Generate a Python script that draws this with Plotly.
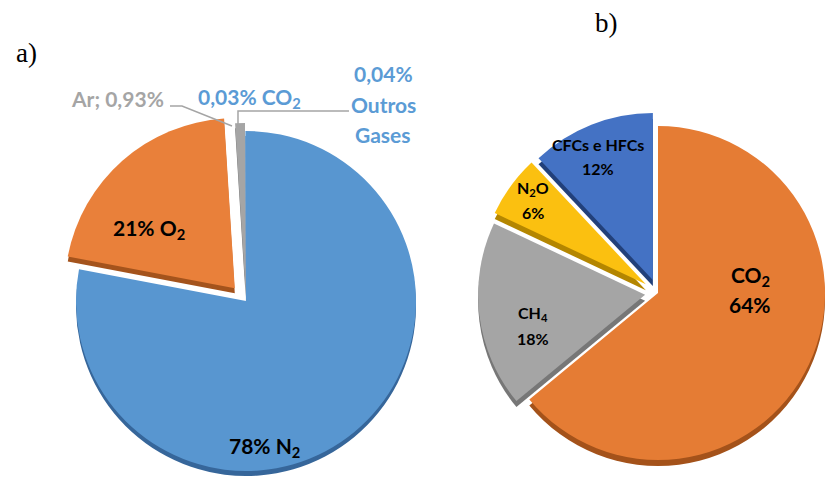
import math
import plotly.graph_objects as go

W, H = 825, 477

# (a) composição do ar seco, em %
gases_a = ["N<sub>2</sub>", "O<sub>2</sub>", "Ar", "CO<sub>2</sub>", "Outros Gases"]
pct_a = [78, 21, 0.93, 0.03, 0.04]

# (b) gases de efeito estufa, em %
gases_b = ["CO<sub>2</sub>", "CH<sub>4</sub>", "N<sub>2</sub>O", "CFCs e HFCs"]
pct_b = [64, 18, 6, 12]

# face and side (darker) colours of each slice
face_a = ["#5896D0", "#E9803A", "#A5A5A5", "#5B9BD5", "#5B9BD5"]
side_a = ["#36669A", "#A4531C", "#767676", "#36669A", "#36669A"]
face_b = ["#E57C34", "#A5A5A5", "#FBC010", "#4472C4"]
side_b = ["#A4521A", "#777777", "#B48600", "#22407A"]

# explosion distance of each slice (px)
explode_a = [0, 17, 8, 0, 0]
explode_b = [0, 13, 15, 14]

CLEAR = "rgba(0,0,0,0)"
LABEL_FONT = "Lato, 'Open Sans', sans-serif"


def fmt(v):
    return f"{v:g}".replace(".", ",")


def px_x(x):
    return x / W


def px_y(y):
    return (H - y) / H


def bisector(values, i):
    total = sum(values)
    mid = (sum(values[:i]) + values[i] / 2) / total
    return math.radians(mid * 360)


def slice_trace(labels, values, colors, i, cx, cy, r):
    shown = [CLEAR] * len(values)
    shown[i] = colors[i]
    return go.Pie(
        labels=labels, values=values, sort=False, direction="clockwise", rotation=0,
        marker=dict(colors=shown, line=dict(width=0)),
        textinfo="none", hoverinfo="skip", showlegend=False,
        domain=dict(x=[max(0, px_x(cx - r)), min(1, px_x(cx + r))],
                    y=[max(0, px_y(cy + r)), min(1, px_y(cy - r))]),
    )


def exploded_pie(labels, values, face, side, explode, cx, cy, r, depth):
    centres = []
    for i in range(len(values)):
        a = bisector(values, i)
        d = explode[i]
        centres.append((cx + d * math.sin(a), cy - d * math.cos(a)))
    traces = [slice_trace(labels, values, side, i, x, y + depth, r)
              for i, (x, y) in enumerate(centres)]
    traces += [slice_trace(labels, values, face, i, x, y, r)
               for i, (x, y) in enumerate(centres)]
    return traces


fig = go.Figure()
for t in exploded_pie(gases_a, pct_a, face_a, side_a, explode_a, 246, 301, 170, 5):
    fig.add_trace(t)
for t in exploded_pie(gases_b, pct_b, face_b, side_b, explode_b, 658, 293, 167, 6):
    fig.add_trace(t)

annotations = []


def add_text(lines, x, y, size, color, spacing, family=LABEL_FONT, weight="bold"):
    n = len(lines)
    for k, line in enumerate(lines):
        yy = y + (k - (n - 1) / 2) * spacing
        annotations.append(dict(
            text=line, x=px_x(x), y=px_y(yy), xref="paper", yref="paper",
            xanchor="center", yanchor="middle", showarrow=False,
            font=dict(family=family, size=size, color=color, weight=weight),
        ))


# labels of pie (a)
add_text([f"{fmt(pct_a[0])}% {gases_a[0]}"], 264, 447, 21, "black", 0)
add_text([f"{fmt(pct_a[1])}% {gases_a[1]}"], 149, 229, 21, "black", 0)
add_text([f"{gases_a[2]}; {fmt(pct_a[2])}%"], 117, 98, 21, "#A5A5A5", 0)
add_text([f"{fmt(pct_a[3])}% {gases_a[3]}"], 249, 98, 21, "#5B9BD5", 0)
add_text([f"{fmt(pct_a[4])}%"] + gases_a[4].split(), 383, 104, 21, "#5B9BD5", 30.5)

# labels of pie (b)
add_text([gases_b[0], f"{fmt(pct_b[0])}%"], 750, 290, 21, "black", 28)
add_text([gases_b[1], f"{fmt(pct_b[1])}%"], 533, 326, 16, "black", 24)
add_text([gases_b[2], f"{fmt(pct_b[2])}%"], 533, 200, 16, "black", 24)
add_text([gases_b[3], f"{fmt(pct_b[3])}%"], 598, 156, 16, "black", 24)

# panel letters
add_text(["a)"], 26, 53, 27, "black", 0, family="'Liberation Serif', serif", weight="normal")
add_text(["b)"], 606, 23, 27, "black", 0, family="'Liberation Serif', serif", weight="normal")


def leader(points):
    path = "M " + " L ".join(f"{px_x(x):.5f},{px_y(y):.5f}" for x, y in points)
    return dict(type="path", path=path, xref="paper", yref="paper",
                line=dict(color="#A5A5A5", width=1.5))


shapes = [
    leader([(170, 106), (182, 106), (232, 126)]),
    leader([(238, 127), (238, 111), (349, 111)]),
]

fig.update_layout(
    width=W, height=H,
    margin=dict(l=0, r=0, t=0, b=0),
    paper_bgcolor="white", plot_bgcolor="white",
    annotations=annotations, shapes=shapes,
    showlegend=False,
)

fig.write_html("out.html")
